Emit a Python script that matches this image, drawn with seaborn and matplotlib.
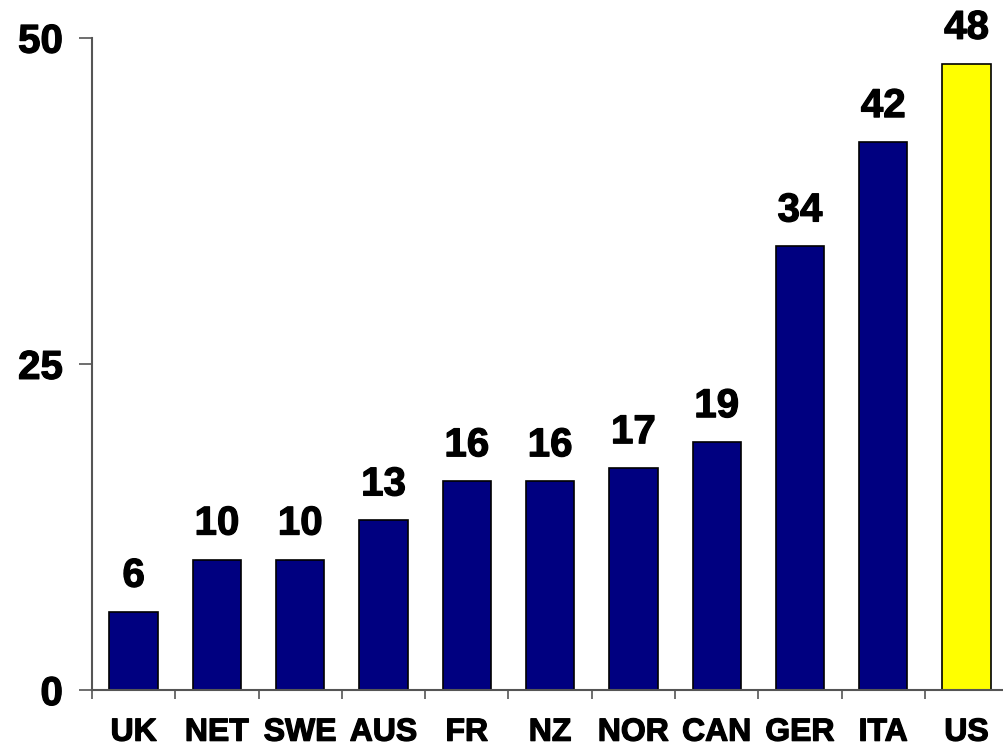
import matplotlib
matplotlib.use("Agg")
import matplotlib.pyplot as plt
import matplotlib.patheffects as pe
import seaborn as sns
from matplotlib.ticker import FixedLocator

countries = ["UK", "NET", "SWE", "AUS", "FR", "NZ", "NOR", "CAN", "GER", "ITA", "US"]
values = [6, 10, 10, 13, 16, 16, 17, 19, 34, 42, 48]
bar_colors = ["#000080"] * 10 + ["#FFFF00"]
y_ticks = [0, 25, 50]

sns.set_theme(style="white")
plt.rcParams["font.family"] = ["Liberation Sans", "DejaVu Sans"]
plt.rcParams["font.weight"] = "bold"

heavy = [pe.withStroke(linewidth=0.9, foreground="black")]

fig = plt.figure(figsize=(10.04, 7.5), dpi=100)
ax = fig.add_axes([92 / 1004, 60 / 750, 1 - 92 / 1004, (690 - 37.7) / 750])

sns.barplot(x=countries, y=values, hue=countries, palette=bar_colors,
            legend=False, width=0.58, edgecolor="black", linewidth=1.2,
            saturation=1, ax=ax)

ax.set_xlim(-0.5, 10.45)
ax.set_ylim(0, 50)
ax.set_yticks(y_ticks)
ax.set_yticklabels([str(t) for t in y_ticks], fontsize=29, fontweight="bold",
                   color="black", path_effects=heavy)
ax.set_xticks(range(len(countries)))
ax.set_xticklabels(countries, fontsize=23, fontweight="bold", color="black",
                   path_effects=heavy, va="baseline")
ax.xaxis.set_minor_locator(FixedLocator([i - 0.5 for i in range(len(countries) + 1)]))
ax.set_xlabel("")
ax.set_ylabel("")

spine_color = "#555555"
for side in ["top", "right"]:
    ax.spines[side].set_visible(False)
for side in ["left", "bottom"]:
    ax.spines[side].set_color(spine_color)
    ax.spines[side].set_linewidth(1.5)

ax.tick_params(axis="y", which="major", direction="out", length=9.5, width=1.2,
               color=spine_color, pad=11.5, left=True)
ax.tick_params(axis="x", which="major", length=0, pad=36.5)
ax.tick_params(axis="x", which="minor", direction="out", length=6.5, width=1.2,
               color=spine_color, bottom=True)

for i, v in enumerate(values):
    ax.annotate(str(v), (i, v), xytext=(0, 18), textcoords="offset points",
                ha="center", va="baseline", fontsize=29, fontweight="bold",
                color="black", annotation_clip=False, path_effects=heavy)

fig.savefig("out.png", dpi=100)
